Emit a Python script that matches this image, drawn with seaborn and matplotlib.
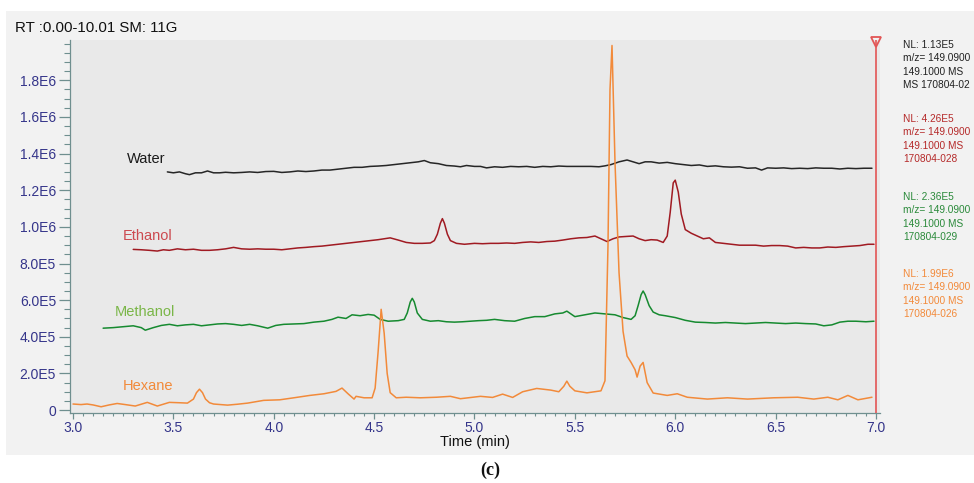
import matplotlib
matplotlib.use("Agg")
import matplotlib.pyplot as plt
import matplotlib.patches as mpatches
from matplotlib.ticker import MultipleLocator, FixedLocator
import numpy as np
import pandas as pd
import seaborn as sns

# ---------------- data (intensity in units of 1e5 counts) ----------------
SCALE = 1e5

water_t = [3.47, 3.50, 3.53, 3.56, 3.58, 3.61, 3.64, 3.67, 3.70, 3.73, 3.76, 3.80, 3.84, 3.88,
           3.92, 3.96, 4.00, 4.04, 4.08, 4.12, 4.16, 4.20, 4.24, 4.28, 4.32, 4.36, 4.40, 4.44,
           4.48, 4.52, 4.56, 4.60, 4.64, 4.68, 4.72, 4.75, 4.78, 4.82, 4.86, 4.90, 4.93, 4.96,
           5.00, 5.03, 5.06, 5.10, 5.14, 5.18, 5.22, 5.26, 5.30, 5.34, 5.38, 5.42, 5.46, 5.50,
           5.54, 5.58, 5.62, 5.65, 5.68, 5.72, 5.76, 5.79, 5.82, 5.85, 5.88, 5.92, 5.96, 6.00,
           6.04, 6.08, 6.12, 6.16, 6.20, 6.24, 6.28, 6.32, 6.36, 6.40, 6.43, 6.46, 6.50, 6.54,
           6.58, 6.62, 6.66, 6.70, 6.74, 6.78, 6.82, 6.86, 6.90, 6.94, 6.98]
water_i = [13.0, 12.95, 13.0, 12.9, 12.85, 12.95, 12.95, 13.05, 12.95, 12.95, 12.98, 12.95, 12.97, 13.0,
           12.97, 13.02, 13.03, 12.97, 13.0, 13.05, 13.02, 13.05, 13.1, 13.1, 13.15, 13.2, 13.25, 13.25,
           13.3, 13.32, 13.35, 13.4, 13.45, 13.5, 13.55, 13.62, 13.5, 13.45, 13.35, 13.32, 13.28, 13.35,
           13.3, 13.3, 13.22, 13.28, 13.25, 13.3, 13.28, 13.3, 13.25, 13.3, 13.28, 13.32, 13.3, 13.3,
           13.3, 13.3, 13.28, 13.33, 13.4, 13.55, 13.65, 13.55, 13.45, 13.55, 13.55, 13.48, 13.52, 13.45,
           13.4, 13.35, 13.38, 13.3, 13.33, 13.28, 13.26, 13.28, 13.2, 13.22, 13.1, 13.22, 13.2, 13.22,
           13.18, 13.2, 13.18, 13.22, 13.2, 13.2, 13.16, 13.2, 13.18, 13.2, 13.2]

ethanol_t = [3.30, 3.34, 3.38, 3.42, 3.45, 3.48, 3.52, 3.56, 3.60, 3.64, 3.68, 3.72, 3.76, 3.80,
             3.84, 3.88, 3.92, 3.96, 4.00, 4.04, 4.08, 4.12, 4.16, 4.20, 4.24, 4.28, 4.32, 4.36,
             4.40, 4.44, 4.48, 4.52, 4.55, 4.58, 4.62, 4.66, 4.70, 4.74, 4.78, 4.80, 4.815, 4.83,
             4.84, 4.85, 4.865, 4.88, 4.91, 4.95, 5.00, 5.04, 5.08, 5.12, 5.16, 5.20, 5.24, 5.28,
             5.32, 5.36, 5.40, 5.44, 5.48, 5.52, 5.56, 5.60, 5.63, 5.66, 5.69, 5.72, 5.76, 5.79,
             5.82, 5.85, 5.88, 5.91, 5.94, 5.96, 5.975, 5.99, 6.0, 6.015, 6.03, 6.05, 6.08, 6.11,
             6.14, 6.17, 6.20, 6.24, 6.28, 6.32, 6.36, 6.40, 6.44, 6.48, 6.52, 6.56, 6.60, 6.64,
             6.68, 6.72, 6.76, 6.80, 6.84, 6.88, 6.92, 6.96, 6.99]
ethanol_i = [8.77, 8.75, 8.72, 8.68, 8.75, 8.72, 8.8, 8.75, 8.78, 8.72, 8.72, 8.75, 8.8, 8.88,
             8.8, 8.78, 8.8, 8.78, 8.78, 8.75, 8.8, 8.85, 8.88, 8.92, 8.95, 9.0, 9.05, 9.1,
             9.15, 9.2, 9.25, 9.3, 9.35, 9.4, 9.28, 9.15, 9.1, 9.1, 9.12, 9.25, 9.6, 10.2,
             10.45, 10.2, 9.6, 9.25, 9.1, 9.05, 9.1, 9.08, 9.1, 9.1, 9.12, 9.1, 9.15, 9.18,
             9.15, 9.2, 9.22, 9.28, 9.35, 9.4, 9.42, 9.5, 9.35, 9.2, 9.35, 9.45, 9.48, 9.5,
             9.35, 9.25, 9.3, 9.28, 9.15, 9.5, 10.8, 12.4, 12.55, 11.9, 10.7, 9.85, 9.65, 9.5,
             9.35, 9.4, 9.15, 9.1, 9.05, 9.0, 9.0, 9.0, 8.95, 8.98, 8.98, 8.95, 8.85, 8.88,
             8.85, 8.85, 8.9, 8.88, 8.92, 8.95, 8.98, 9.05, 9.05]

methanol_t = [3.15, 3.20, 3.25, 3.30, 3.34, 3.36, 3.40, 3.44, 3.48, 3.52, 3.56, 3.60, 3.64, 3.68,
              3.72, 3.76, 3.80, 3.84, 3.88, 3.92, 3.97, 4.01, 4.05, 4.10, 4.15, 4.20, 4.25, 4.29,
              4.32, 4.36, 4.39, 4.43, 4.47, 4.50, 4.53, 4.57, 4.62, 4.65, 4.665, 4.68, 4.69, 4.70,
              4.715, 4.74, 4.78, 4.82, 4.86, 4.90, 4.94, 4.98, 5.02, 5.06, 5.10, 5.15, 5.20, 5.25,
              5.30, 5.35, 5.40, 5.44, 5.46, 5.48, 5.50, 5.55, 5.60, 5.65, 5.70, 5.74, 5.78, 5.80,
              5.815, 5.83, 5.84, 5.85, 5.87, 5.89, 5.92, 5.95, 6.00, 6.05, 6.10, 6.15, 6.20, 6.25,
              6.30, 6.35, 6.40, 6.45, 6.50, 6.55, 6.60, 6.65, 6.70, 6.74, 6.78, 6.82, 6.86, 6.90,
              6.95, 6.99]
methanol_i = [4.47, 4.5, 4.55, 4.6, 4.5, 4.36, 4.5, 4.62, 4.68, 4.6, 4.65, 4.68, 4.6, 4.65,
              4.7, 4.72, 4.68, 4.62, 4.68, 4.6, 4.47, 4.62, 4.68, 4.7, 4.72, 4.8, 4.85, 4.95,
              5.07, 5.0, 5.2, 5.15, 5.22, 5.18, 4.95, 4.85, 4.88, 4.95, 5.3, 5.9, 6.1, 5.9,
              5.3, 4.95, 4.85, 4.88, 4.82, 4.8, 4.82, 4.85, 4.88, 4.9, 4.95, 4.88, 4.85, 5.0,
              5.1, 5.1, 5.25, 5.3, 5.4, 5.25, 5.1, 5.2, 5.3, 5.25, 5.2, 5.05, 4.95, 5.15,
              5.7, 6.3, 6.5, 6.3, 5.7, 5.35, 5.2, 5.15, 5.05, 4.9, 4.8, 4.78, 4.75, 4.78,
              4.75, 4.72, 4.75, 4.78, 4.75, 4.72, 4.75, 4.72, 4.7, 4.6, 4.65, 4.8, 4.85, 4.85,
              4.82, 4.85]

hexane_t = [3.00, 3.04, 3.07, 3.10, 3.14, 3.18, 3.22, 3.26, 3.31, 3.37, 3.42, 3.48, 3.53, 3.57,
            3.60, 3.615, 3.63, 3.645, 3.66, 3.68, 3.70, 3.77, 3.82, 3.87, 3.95, 4.03, 4.10, 4.18,
            4.25, 4.31, 4.34, 4.37, 4.40, 4.41, 4.45, 4.49, 4.505, 4.52, 4.535, 4.55, 4.565,
            4.58, 4.61, 4.66, 4.73, 4.81, 4.88, 4.93, 5.03, 5.09, 5.14, 5.19, 5.24, 5.31, 5.38,
            5.42, 5.445, 5.46, 5.475, 5.50, 5.56, 5.63, 5.65, 5.665, 5.675, 5.685, 5.70, 5.72,
            5.74, 5.76, 5.78, 5.80, 5.81, 5.825, 5.84, 5.86, 5.89, 5.96, 6.01, 6.06, 6.16, 6.26,
            6.36, 6.49, 6.61, 6.69, 6.76, 6.81, 6.86, 6.91, 6.98]
hexane_i = [0.33, 0.3, 0.33, 0.28, 0.18, 0.28, 0.36, 0.3, 0.22, 0.42, 0.22, 0.42, 0.4, 0.38,
            0.6, 0.95, 1.14, 0.95, 0.6, 0.4, 0.33, 0.27, 0.32, 0.38, 0.53, 0.56, 0.67, 0.8,
            0.89, 1.02, 1.2, 0.89, 0.6, 0.75, 0.67, 0.67, 1.2, 3.2, 5.5, 4.2, 2.0,
            0.95, 0.67, 0.7, 0.67, 0.7, 0.75, 0.62, 0.75, 0.69, 0.87, 0.69, 1.0, 1.18, 1.09,
            1.0, 1.3, 1.58, 1.3, 1.05, 0.94, 1.05, 1.6, 9.0, 17.5, 19.9, 13.5, 7.5,
            4.3, 2.95, 2.6, 2.2, 1.8, 2.4, 2.6, 1.5, 0.93, 0.8, 0.89, 0.7, 0.6, 0.67,
            0.6, 0.67, 0.7, 0.6, 0.7, 0.56, 0.8, 0.56, 0.7]

samples = ["Water", "Ethanol", "Methanol", "Hexane"]
line_colors = ["#262626", "#a01a22", "#168a30", "#f28a3a"]
label_colors = ["#1a1a1a", "#cc4a50", "#7ab648", "#f28a3a"]
label_t = [3.27, 3.25, 3.21, 3.25]
label_i = [13.73, 9.48, 5.34, 1.31]

info_nl = ["NL: 1.13E5", "NL: 4.26E5", "NL: 2.36E5", "NL: 1.99E6"]
info_mz = ["m/z= 149.0900", "m/z= 149.0900", "m/z= 149.0900", "m/z= 149.0900"]
info_ms = ["149.1000 MS", "149.1000 MS", "149.1000 MS", "149.1000 MS"]
info_file = ["MS 170804-02", "170804-028", "170804-029", "170804-026"]
info_colors = ["#222222", "#b52a2a", "#2a8a3a", "#f28a3a"]

xticks = [3.0, 3.5, 4.0, 4.5, 5.0, 5.5, 6.0, 6.5, 7.0]
yticks = [0, 2e5, 4e5, 6e5, 8e5, 1.0e6, 1.2e6, 1.4e6, 1.6e6, 1.8e6]
ytick_labels = ["0", "2.0E5", "4.0E5", "6.0E5", "8.0E5", "1.0E6", "1.2E6", "1.4E6", "1.6E6", "1.8E6"]
cursor_rt = 7.0

series_t = [water_t, ethanol_t, methanol_t, hexane_t]
series_i = [water_i, ethanol_i, methanol_i, hexane_i]
frames = []
for name, t, i in zip(samples, series_t, series_i):
    frames.append(pd.DataFrame({"Time (min)": t, "Intensity": np.array(i) * SCALE, "Sample": name}))
df = pd.concat(frames, ignore_index=True)

# ---------------- figure ----------------
sns.set_theme(style="white")
plt.rcParams["font.family"] = ["Liberation Sans", "DejaVu Sans"]

W, H = 974, 483
fig = plt.figure(figsize=(W / 100, H / 100), dpi=100, facecolor="white")
# light grey panel behind the chromatogram
fig.patches.append(mpatches.Rectangle((6 / W, 1 - 455 / H), 1 - 6 / W, (455 - 11) / H,
                                      transform=fig.transFigure, facecolor="#f2f2f2",
                                      edgecolor="none", zorder=-10))

ax = fig.add_axes([70 / W, 1 - 413 / H, (880 - 70) / W, (413 - 40) / H])
ax.set_zorder(2)
ax.set_facecolor("#e9e9e9")

sns.lineplot(data=df, x="Time (min)", y="Intensity", hue="Sample", hue_order=samples,
             palette=line_colors, sort=False, estimator=None, linewidth=1.1,
             legend=False, ax=ax)

ax.set_xlim(2.985, 7.02)
ax.set_ylim(-1.6e4, 2.02e6)

axis_col = "#6f8f8f"
tick_col = "#35358a"
for s in ["top", "right"]:
    ax.spines[s].set_visible(False)
for s in ["left", "bottom"]:
    ax.spines[s].set_color(axis_col)
    ax.spines[s].set_linewidth(0.9)

ax.xaxis.set_major_locator(FixedLocator(xticks))
ax.xaxis.set_minor_locator(MultipleLocator(0.05))
ax.yaxis.set_major_locator(FixedLocator(yticks))
ax.yaxis.set_minor_locator(MultipleLocator(5e4))
ax.set_xticklabels([f"{v:.1f}" for v in xticks])
ax.set_yticklabels(ytick_labels)
ax.tick_params(axis="both", which="major", direction="out", width=0.9,
               color=axis_col, labelcolor=tick_col, labelsize=10, bottom=True, left=True)
ax.tick_params(axis="both", which="minor", direction="out", width=0.8,
               color=axis_col, bottom=True, left=True)
ax.tick_params(axis="x", which="major", length=4, pad=1.5)
ax.tick_params(axis="x", which="minor", length=2.5)
ax.tick_params(axis="y", which="major", length=8, pad=2)
ax.tick_params(axis="y", which="minor", length=4)
ax.set_xlabel("Time (min)", fontsize=10.5, color="#111111", labelpad=0)
ax.set_ylabel("")

# red cursor line at the right edge with a hollow triangle marker
ax.axvline(cursor_rt, color="#e25555", linewidth=1.2, zorder=5)
ax.plot([cursor_rt], [0.995], transform=ax.get_xaxis_transform(), marker="v", markersize=7,
        markerfacecolor="none", markeredgecolor="#e25555", markeredgewidth=1.3,
        linestyle="none", clip_on=False, zorder=6)

# trace labels
for name, tx, ty, c in zip(samples, label_t, label_i, label_colors):
    ax.text(tx, ty * SCALE, name, color=c, fontsize=10.5, ha="left", va="center")

# header text
fig.text(15 / W, 1 - 28 / H, "RT :0.00-10.01 SM: 11G", fontsize=10.8, color="#111111",
         ha="left", va="center")

# right-hand info blocks
block_top = [45, 119, 197, 274]
for top, nl, mz, ms, fl, c in zip(block_top, info_nl, info_mz, info_ms, info_file, info_colors):
    for k, s in enumerate([nl, mz, ms, fl]):
        fig.text(903 / W, 1 - (top + 13.3 * k) / H, s, fontsize=7.3, color=c,
                 ha="left", va="center")

# panel caption
fig.text(490 / W, 1 - 470 / H, "(c)", fontsize=13, fontweight="bold",
         family=["Liberation Serif", "DejaVu Serif"], ha="center", va="center", color="#111111")

fig.savefig("out.png", dpi=100, facecolor="white")
